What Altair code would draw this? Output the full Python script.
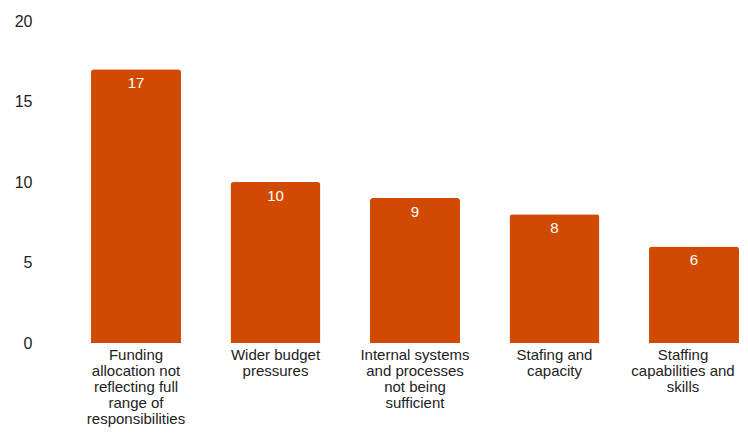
import altair as alt
import pandas as pd

categories = [
    "Funding\nallocation not\nreflecting full\nrange of\nresponsibilities",
    "Wider budget\npressures",
    "Internal systems\nand processes\nnot being\nsufficient",
    "Stafing and\ncapacity",
    "Staffing\ncapabilities and\nskills",
]
values = [17, 10, 9, 8, 6]

df = pd.DataFrame({"category": categories, "value": values})

FONT = "Liberation Sans"
COLOR = "#D04A02"

x = alt.X(
    "category:N",
    sort=None,
    scale=alt.Scale(paddingInner=0.355, paddingOuter=0),
    axis=alt.Axis(
        title=None,
        labelAngle=0,
        domain=False,
        ticks=False,
        labelFont=FONT,
        labelFontSize=15,
        labelColor="#222222",
        labelLineHeight=16,
        labelPadding=4,
        labelOffset={"condition": {"test": "datum.index == 1", "value": -11}, "value": 0},
        labelExpr="split(datum.label, '\\n')",
        labelLimit=0,
    ),
)
y = alt.Y(
    "value:Q",
    scale=alt.Scale(domain=[0, 20]),
    axis=alt.Axis(
        title=None,
        values=[0, 5, 10, 15, 20],
        grid=False,
        domain=False,
        ticks=False,
        labelFont=FONT,
        labelFontSize=16,
        labelColor="#222222",
        labelPadding=59,
    ),
)

bars = alt.Chart(df).mark_bar(
    color=COLOR, cornerRadiusTopLeft=3, cornerRadiusTopRight=3
).encode(x=x, y=y)

labels = alt.Chart(df).mark_text(
    color="white", font=FONT, fontSize=15, baseline="top", align="center", dy=7
).encode(x=x, y=y, text="value:Q")

chart = (
    (bars + labels)
    .properties(
        width=648,
        height=322,
        autosize=alt.AutoSizeParams(type="none"),
        padding={"left": 83, "top": 13, "right": 1, "bottom": 84},
    )
    .configure_view(stroke=None)
)

chart.save("out.html", embed_options={"renderer": "svg", "actions": False})
